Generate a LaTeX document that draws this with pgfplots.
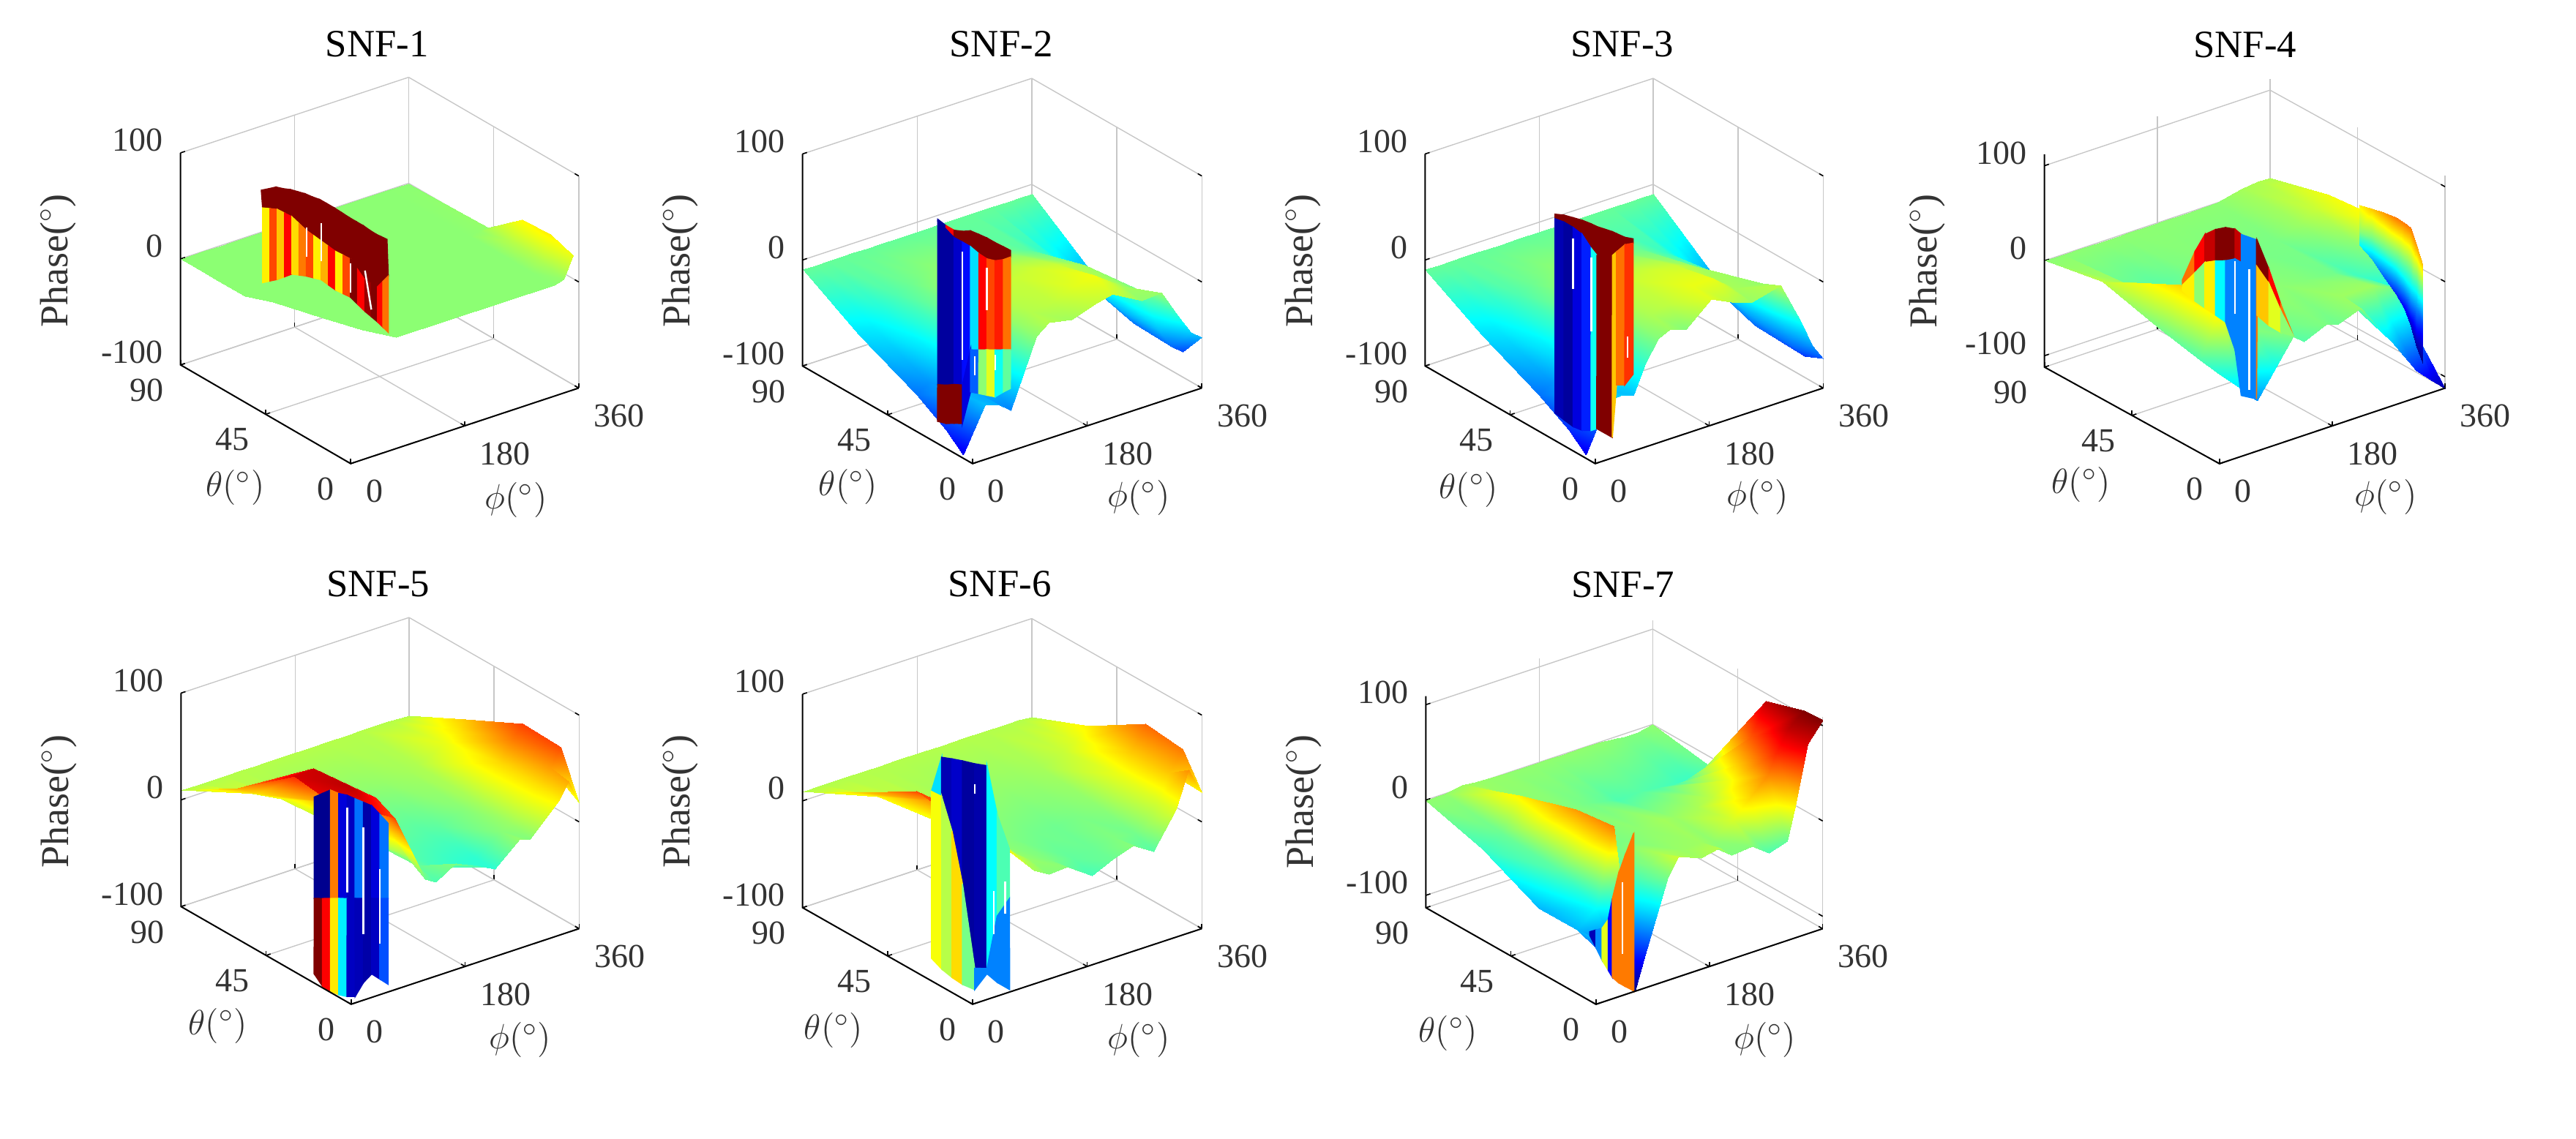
\documentclass[border=0pt]{standalone}
\usepackage{fontspec}
\setmainfont{Liberation Serif}
\usepackage{pgfplots}
\pgfplotsset{compat=1.18}
\pgfplotsset{
 snf/.style={clip=false,anchor=origin,
  xmin=0,xmax=360,ymin=0,ymax=90,
  xtick={0,180,360},ytick={0,45,90},ztick={-100,0,100},
  xtick pos=lower,ytick pos=lower,ztick pos=left,
  grid=major,grid style={black!22,line width=0.35pt},
  axis line style={draw=none},
  tick style={black,line width=0.4pt},major tick length=1.6pt,
  colormap/jet,point meta min=-122,point meta max=116,
  /pgf/number format/assume math mode=true,
  tick label style={font=\fontsize{11.5}{13}\selectfont,text=black!80,inner sep=0pt},
  xticklabel style={anchor=north west,xshift=5pt,yshift=-5.4pt},
  yticklabel style={anchor=north east,xshift=-5.5pt,yshift=-4.6pt},
  zticklabel style={anchor=east,xshift=-5.9pt,yshift=4.3pt},
  xlabel={$\phi(^\circ)$},ylabel={$\theta(^\circ)$},zlabel={Phase($^\circ$)},
 },
 labs/.style n args={9}{
  xlabel style={at={(axis cs:0,0,#1)},anchor=center,xshift=#2*0.25pt,yshift=#3*0.25pt,font=\fontsize{12.8}{15}\selectfont,text=black!80,inner sep=0pt},
  ylabel style={at={(axis cs:0,0,#1)},anchor=center,xshift=#4*0.25pt,yshift=#5*0.25pt,font=\fontsize{12.8}{15}\selectfont,text=black!80,inner sep=0pt},
  zlabel style={at={(axis cs:0,0,#1)},anchor=center,xshift=#7*0.25pt,yshift=-#6*0.25pt,font=\fontsize{13.5}{15}\selectfont,text=black!80,inner sep=0pt},
  title style={at={(axis cs:0,0,#1)},anchor=center,xshift=#8*0.25pt,yshift=#9*0.25pt,font=\fontsize{13.2}{15}\selectfont,inner sep=0pt},
 },
 base/.style={surf,shader=interp,point meta=z,mesh/cols=#1},
 wall/.style={surf,shader=flat corner,point meta=explicit,mesh/cols=#1,z buffer=none},
 sliver/.style={white,line width=0.6pt,mark=none},
}
\newcommand\snfaxes[2]{%
 \draw[black,line width=0.5pt] (axis cs:0,90,#2) -- (axis cs:0,90,#1) -- (axis cs:0,0,#1) -- (axis cs:360,0,#1);}
\begin{document}
\begin{tikzpicture}
\path[use as bounding box] (0pt,0pt) rectangle (880pt,389pt);
% ---------------- SNF-1
\begin{axis}[snf,at={(119.8pt,266.8pt)},zmin=-100,zmax=100,
 x={(0.21644pt,0.07175pt)},y={(-0.64575pt,0.37468pt)},z={(0pt,0.36234pt)},
 labs={-100}{226}{-50}{-158}{-33}{-400}{277}{36}{549},title={SNF-1}]
\addplot3[base=8] table {
0 90 0
17 90 0
40 90 0
60 90 0
80 90 0
330 90 0
345 90 0
360 90 0
0 78 0
17 75 0
40 68 0
60 62 0
80 48 0
330 48 0
345 48 1
360 48 2
0 70 0
17 65 0
40 52 0
60 42 0
80 30 0
330 30 0
345 30 10
360 30 28
0 62 0
17 55 0
40 40 0
60 28 0
80 15 0
330 15 0
345 15 8
360 15 30
0 56 0
17 47 0
40 28 0
60 14 0
80 3 0
330 3 0
345 3 2
360 3 22
};
\addplot3[wall=19] table[meta index=3] {
32 58 91.5 116
35.7 55.3 95 116
39.4 52.7 98.5 116
43.1 50 99 116
46.8 47.5 100 116
50.5 44.9 100 116
54.3 42.3 100 116
58 39.6 99 116
61.8 37 98.5 116
65.5 34.4 96.5 116
69.2 31.8 94.5 116
73 29.1 92 116
76.7 26.5 89.5 116
80.3 23.9 87.5 116
84 21.3 85.5 116
87.2 19 83 116
90.4 16.8 81 116
93.2 14.9 80 116
96 13 79 116
12 50.6 86.4 30
15.7 48 87.7 70
19.4 45.3 89 40
23.1 42.7 87.5 86
26.8 40.1 86 35
30.5 37.5 81.5 58
34.3 34.9 77 70
38 32.2 74 30
41.8 29.6 71 45
45.5 27 68 86
49.2 24.4 65 30
53 21.7 63.5 70
56.7 19.1 62 116
60.3 16.5 54 86
64 13.9 46 110
67.2 11.6 44.5 116
70.4 9.4 43 86
73.2 7.5 49.5 60
76 5.6 56 86
12 50.6 16 0
15.7 48 19.5 0
19.4 45.3 23 0
23.1 42.7 27.5 0
26.8 40.1 32 0
30.5 37.5 33 0
34.3 34.9 34 0
38 32.2 34.3 0
41.8 29.6 34.6 0
45.5 27 31.6 0
49.2 24.4 28.7 0
53 21.7 27.3 0
56.7 19.1 26 0
60.3 16.5 21.3 0
64 13.9 16.6 0
67.2 11.6 13.3 0
70.4 9.4 10 0
73.2 7.5 6.5 0
76 5.6 3 0
};
\addplot3[sliver] coordinates {(56.7,19.1,58) (56.7,19.1,30)};
\addplot3[sliver] coordinates {(41.8,29.6,88) (41.8,29.6,52)};
\addplot3[sliver] coordinates {(64,13.9,55) (67.2,11.6,20)};
\addplot3[sliver] coordinates {(34.3,34.9,80) (34.3,34.9,52)};
\snfaxes{-100}{100}
\end{axis}
% ---------------- SNF-2
\begin{axis}[snf,at={(332.25pt,266.8pt)},zmin=-100,zmax=100,
 x={(0.21752pt,0.07175pt)},y={(-0.64553pt,0.3707pt)},z={(0pt,0.36234pt)},
 labs={-100}{227}{-47}{-170}{-32}{-399}{277}{39}{549},title={SNF-2}]
\addplot3[base=15] table {
0 90 -9
20 90 -9
40 90 -9
60 90 -9
80 90 -9
100 90 -9
120 90 -9
155 90 -9
190 90 -9
220 90 -9
265 90 -9
296 90 -9
322 90 -9
342 90 -9
360 90 -9
0 60 -40
20 60 -36
40 60 -26
60 60 -14
80 60 -7
100 60 -3
120 60 0
155 60 0
190 60 -2
220 60 -4
265 60 -12
296 60 -22
322 60 -36
342 60 -44
360 60 -48
0 30 -65
20 30 -58
40 30 -42
60 30 -22
80 30 -4
100 30 8
120 30 12
155 30 14
190 30 16
220 30 14
265 30 4
296 30 -18
322 30 -50
342 30 -66
360 30 -70
0 14 -83
20 10 -50
40 10 -52
60 10 -48
80 10 -22
100 10 2
120 10 9
155 10 12
190 10 20
220 10 24
265 10 5
296 10 -6
322 10 -48
342 10 -68
360 10 -76
0 5 -97
20 0 -48
40 0 -52
60 0 -62
80 0 -30
100 0 0
120 0 9
155 0 5
190 0 12
220 0 16
265 0 1
296 0 3
322 0 -24
342 0 -44
360 0 -52
};
\addplot3[wall=10] table[meta index=3] {
60 38.7 79 -115
60 34.3 77.5 86
60 30 77.5 116
60 25.6 81 116
60 21.3 85.8 116
60 16.9 87 116
60 12.6 88 116
60 8.3 88 116
60 3.9 88.6 116
60 0.2 89 116
60 38.7 77.2 -115
60 34.3 74 -115
60 30 70.6 -105
60 25.6 70.9 -90
60 21.3 70.9 -40
60 16.9 68.8 86
60 12.6 68.3 70
60 8.3 70.9 80
60 3.9 76.5 60
60 0.2 82.7 60
60 38.7 -77 116
60 34.3 -73 116
60 30 -68 116
60 25.6 -64 -100
60 21.3 -26.4 -70
60 16.9 -22 0
60 12.6 -17.5 20
60 8.3 -13.2 -30
60 3.9 -8.6 -10
60 0.2 -4.8 -10
0 18.5 -79 0
0 14.1 -76.5 0
0 9.8 -72 0
0 5.4 -67.6 0
0 1.1 -33.5 0
9.7 0 -35.8 0
22.6 0 -40 0
35.4 0 -44 0
48.4 0 -42 0
59.4 0 -40.8 0
};
\addplot3[sliver] coordinates {(60,25.6,62) (60,25.6,-40)};
\addplot3[sliver] coordinates {(60,12.6,60) (60,12.6,20)};
\addplot3[sliver] coordinates {(60,8.3,-18) (60,8.3,-32)};
\addplot3[sliver] coordinates {(60,19,-30) (60,19,-48)};
\snfaxes{-100}{100}
\end{axis}
% ---------------- SNF-3
\begin{axis}[snf,at={(544.95pt,266.8pt)},zmin=-100,zmax=100,
 x={(0.21634pt,0.07175pt)},y={(-0.64553pt,0.3707pt)},z={(0pt,0.36234pt)},
 labs={-100}{222}{-46}{-173}{-36}{-399}{277}{37}{549},title={SNF-3}]
\addplot3[base=15] table {
0 90 -9
20 90 -9
40 90 -9
60 90 -9
80 90 -9
100 90 -9
118 90 -9
144 90 -9
183 90 -9
215 90 -9
248 90 -9
293 90 -9
325 90 -9
342 90 -9
360 90 -9
0 60 -40
20 60 -36
40 60 -26
60 60 -14
80 60 -7
100 60 -3
118 60 0
144 60 0
183 60 -2
215 60 -4
248 60 -8
293 60 -20
325 60 -36
342 60 -44
360 60 -50
0 30 -65
20 30 -58
40 30 -42
60 30 -22
80 30 -2
100 30 8
118 30 12
144 30 14
183 30 16
215 30 14
248 30 6
293 30 -12
325 30 -50
342 30 -68
360 30 -76
0 14 -83
20 10 -50
40 10 -48
60 10 -40
80 10 -18
100 10 2
118 10 8
144 10 12
183 10 22
215 10 22
248 10 6
293 10 2
325 10 -40
342 10 -68
360 10 -80
0 5 -97
20 0 -45
40 0 -44
60 0 -47
80 0 -20
100 0 -2
118 0 3.6
144 0 -2
183 0 19
215 0 10
248 0 3
293 0 10
325 0 -31
342 0 -56
360 0 -72
};
\addplot3[wall=10] table[meta index=3] {
60 41.4 81 116
60 36.6 85 116
60 31.8 87.5 116
60 27 90 116
60 22.2 91.5 116
60 19.2 92 116
60 11 95.6 116
60 8.8 96 116
60 4.4 97 116
60 0.1 100 116
60 41.4 76.7 -110
60 36.6 78.4 -115
60 31.8 78.3 -100
60 27 76.6 -85
60 22.2 68.4 -30
60 19.2 64.8 116
60 11 73.2 40
60 8.8 78.8 60
60 4.4 90 75
60 0.1 95.9 75
0 21.3 -74 0
0 16.5 -75.6 0
0 11.7 -77 0
0 7 -75.7 0
0 2.2 -71 0
2.5 0 -67.5 0
27 0 -80.6 0
33.7 0 -32.4 0
46.7 0 -35 0
59.7 0 -27.6 0
};
\addplot3[sliver] coordinates {(60,31.8,68) (60,31.8,20)};
\addplot3[sliver] coordinates {(60,22.2,60) (60,22.2,-10)};
\addplot3[sliver] coordinates {(60,3,5) (60,3,-15)};
\snfaxes{-100}{100}
\end{axis}
% ---------------- SNF-4
\begin{axis}[snf,at={(758.2pt,266.9pt)},zmin=-112,zmax=112,
 x={(0.214pt,0.07175pt)},y={(-0.66424pt,0.36673pt)},z={(0pt,0.32467pt)},
 labs={-112}{227}{-46}{-189}{-29}{-399}{277}{35}{549},title={SNF-4}]
\addplot3[base=13] table {
0 90 0
30 90 0
60 90 0
90 90 0
118 90 0
134 90 0
170 90 0
190 90 0
226 90 0
275 90 0
315 90 6
340 90 8
360 90 8
0 60 12
30 60 5
60 60 -10
90 60 -12
118 60 -8
134 60 -4
170 60 -2
190 60 -3
226 60 -4
275 60 -4
315 60 4
340 60 14
360 60 24
0 30 -5
30 30 36
60 30 0
90 30 -4
118 30 -2
134 30 0
170 30 2
190 30 0
226 30 -2
275 30 -6
315 30 -18
340 30 -8
360 30 30
0 10 -14
30 10 32
60 10 5
90 10 -2
118 10 -6
134 10 -6
170 10 -2
190 10 -4
226 10 4
275 10 4
315 10 -8
340 10 -55
360 10 -90
0 0 -18
30 0 -38
60 0 -59
90 0 -30
118 0 -3.6
134 0 -12.8
170 0 -3.6
190 0 -7
226 0 2
275 0 -44
315 0 -84
340 0 -100
360 0 -112
};
\addplot3[surf,shader=interp,point meta=explicit,mesh/cols=8,z buffer=none] table[meta index=3] {
360 44.2 31 30
360 37.8 34.6 40
360 31.5 38 50
360 25.2 39.6 58
360 20.9 39 58
360 17.7 37 58
360 14.6 22.1 50
360 11.4 3.6 40
360 44.2 3.5 0
360 37.8 3.4 -5
360 31.5 -0.6 -10
360 25.2 -8 -20
360 20.9 -18 -30
360 17.7 -29 -40
360 14.6 -44 -60
360 11.4 -59 -80
360 44.2 -11.3 -33
360 37.8 -18.7 -50
360 31.5 -30 -70
360 25.2 -41.4 -85
360 20.9 -51 -95
360 17.7 -66 -105
360 14.6 -84.6 -115
360 11.4 -99.5 -120
};
\addplot3[wall=12] table[meta index=3] {
60 38.4 24.8 60
60 32 61.5 86
60 26.8 85.7 100
60 21.4 97 116
60 16.2 105 116
60 11.3 108.8 100
60 8.1 106.8 -62
60 0.3 110 116
60 0 110 116
79 0 75 86
98 0 34 60
118 0 -3.6 60
60 38.4 19.3 30
60 32 39.4 0
60 26.8 56.3 30
60 21.4 64 -33
60 16.2 70 -62
60 11.3 77.5 -62
60 8.1 77.4 -62
60 0.3 82.5 60
60 0 82 40
79 0 60 20
98 0 26.9 0
118 0 -3.6 0
60 38.4 13.7 0
60 32 9.9 0
60 26.8 8.3 0
60 21.4 7.1 0
60 16.2 5.6 0
60 11.3 -18.3 0
60 8.1 -62.6 0
60 0.3 -57.4 0
60 0 31 0
79 0 16 0
98 0 4.5 0
118 0 -3.6 0
};
\addplot3[sliver] coordinates {(60,4,75) (60,4,-52)};
\addplot3[sliver] coordinates {(60,11.3,75) (60,11.3,20)};
\snfaxes{-112}{112}
\end{axis}
% ---------------- SNF-5
\begin{axis}[snf,at={(119.95pt,82.3pt)},zmin=-100,zmax=100,
 x={(0.21634pt,0.07175pt)},y={(-0.64553pt,0.3707pt)},z={(0pt,0.36485pt)},
 point meta min=-103,point meta max=100,
 labs={-100}{231}{-49}{-182}{-30}{-399}{277}{37}{550},title={SNF-5}]
\addplot3[base=14] table {
0 90 9
30 90 9
68 90 9
94 90 9
117 90 9
133 90 9
165 90 9
208 90 9
227 90 9
266 90 9
282 90 9
327 90 9
344 90 9
360 90 8
0 60 42
30 60 30
68 60 18
94 60 10
117 60 6
133 60 4
165 60 2
208 60 2
227 60 3
266 60 6
282 60 8
327 60 20
344 60 28
360 60 35
0 30 83
30 30 85
68 30 45
94 30 10
117 30 0
133 30 -4
165 30 -8
208 30 -10
227 30 -8
266 30 0
282 30 6
327 30 32
344 30 50
360 30 62
0 10 78
30 10 88
68 10 70
94 10 30
117 10 6
133 10 -6
165 10 -14
208 10 -18
227 10 -18
266 10 0
282 10 4
327 10 30
344 10 44
360 10 60
0 0 60
30 0 75
68 0 61
94 0 26
117 0 -6
133 0 -11.8
165 0 -0.7
208 0 -12
227 0 -17.8
266 0 2.6
282 0 -0.8
327 0 26
344 0 41
360 0 18
};
\addplot3[wall=10] table[meta index=3] {
60 39.6 42 -100
60 35.3 49.7 -100
60 31 57.3 50
60 26.6 58.5 -85
60 22.2 61.3 -90
60 18 62.3 -55
60 13.6 63.5 -95
60 9.2 64.7 -85
60 4.9 61 -55
60 0.5 57 -55
60 39.6 -53 100
60 35.3 -48.7 75
60 31 -44.2 28
60 26.6 -39.8 -30
60 22.2 -35.4 -90
60 18 -31 -92
60 13.6 -26.5 -95
60 9.2 -22.1 -90
60 4.9 -17.7 -62
60 0.5 -13.3 -62
0 19.6 -91.3 0
0 15.2 -98.4 0
0 10.9 -99 0
0 6.5 -97.7 0
0 2.2 -95 0
6.4 0 -94 0
19.5 0 -83.5 0
32.5 0 -78 0
45.3 0 -85.3 0
58.4 0 -92.8 0
};
\addplot3[sliver] coordinates {(60,22.2,50) (60,22.2,-30)};
\addplot3[sliver] coordinates {(60,13.6,40) (60,13.6,-60)};
\addplot3[sliver] coordinates {(60,4.9,10) (60,4.9,-60)};
\snfaxes{-100}{100}
\end{axis}
% ---------------- SNF-6
\begin{axis}[snf,at={(332.25pt,82.3pt)},zmin=-100,zmax=100,
 x={(0.21752pt,0.07175pt)},y={(-0.64553pt,0.36673pt)},z={(0pt,0.36485pt)},
 labs={-100}{227}{-49}{-190}{-36}{-399}{277}{37}{550},title={SNF-6}]
\addplot3[base=13] table {
0 90 9
30 90 9
61 90 9
97 90 9
119 90 9
148 90 9
187 90 9
220 90 9
252 90 9
284 90 9
320 90 9
339 90 9
360 90 8
0 60 38
30 60 28
61 60 18
97 60 12
119 60 8
148 60 5
187 60 3
220 60 2
252 60 3
284 60 6
320 60 14
339 60 20
360 60 30
0 30 70
30 30 55
61 30 22
97 30 8
119 30 0
148 30 -3
187 30 -6
220 30 -7
252 30 -4
284 30 0
320 30 22
339 30 40
360 30 62
0 10 65
30 10 60
61 10 35
97 10 12
119 10 2
148 10 -3
187 10 -10
220 10 -8
252 10 -3
284 10 -6
320 10 18
339 10 40
360 10 58
0 0 40
30 0 45
61 0 29.5
97 0 6
119 0 -1.6
148 0 -0.7
187 0 -16.5
220 0 -8
252 0 -1.3
284 0 -12.5
320 0 20
339 0 53
360 0 28
};
\addplot3[wall=8] table[meta index=3] {
60 41.9 46.2 -40
60 36.6 82.7 -110
60 31.1 86.7 -105
60 25.6 90.4 -115
60 19.1 94.2 -112
60 12.6 98.9 -33
60 7.2 58.6 -15
60 0.7 32.7 -15
60 41.9 45.3 25
60 36.6 46 10
60 31.1 18.9 35
60 25.6 -24.7 -5
3.3 0 -67 -62
22.6 0 -71 -62
60 7.2 -36.5 -62
60 0.7 -13.5 -62
0 21.7 -78.8 0
0 16.3 -83.5 0
0 10.9 -85.8 0
0 5.4 -86.8 0
3.3 0 -86.9 0
22.6 0 -75.9 0
38.7 0 -87.2 0
58 0 -97.6 0
};
\addplot3[sliver] coordinates {(60,9,-15) (60,9,-55)};
\addplot3[sliver] coordinates {(60,3,0) (60,3,-30)};
\addplot3[sliver] coordinates {(60,19.1,75) (60,19.1,66)};
\snfaxes{-100}{100}
\end{axis}
% ---------------- SNF-7
\begin{axis}[snf,at={(545.2pt,82.6pt)},zmin=-113,zmax=109,
 x={(0.21518pt,0.07175pt)},y={(-0.64553pt,0.36673pt)},z={(0pt,0.32575pt)},
 point meta min=-112,point meta max=105,
 labs={-113}{231}{-49}{-202}{-40}{-399}{277}{37}{550},title={SNF-7}]
\addplot3[base=17] table {
0 90 0
30 90 0
58 90 3
62 90 3
78 90 2
98 90 1
114 90 1
130 90 0
166 90 0
196 90 0
215 90 0
248 90 0
274 90 0
303 90 -2
316 90 -3
336 90 -3
360 90 0
0 60 -18
30 60 -8
58 60 26
62 60 24
78 60 8
98 60 0
114 60 -2
130 60 -2
166 60 -6
196 60 -10
215 60 -14
248 60 -12
274 60 -14
303 60 -16
316 60 -18
336 60 -18
360 60 -10
0 30 -46
30 30 -12
58 30 45
62 30 30
78 30 0
98 30 -5
114 30 -6
130 30 -4
166 30 0
196 30 4
215 30 2
248 30 5
274 30 10
303 30 22
316 30 35
336 30 60
360 30 92
0 10 -46
30 10 -30
58 10 50
62 10 -60
78 10 -40
98 10 -15
114 10 -3
130 10 6
166 10 2
196 10 3
215 10 0
248 10 15
274 10 32
303 10 50
316 10 70
336 10 92
360 10 105
0 0 -44
30 0 -80
58 0 -110
62 0 -113
78 0 -78
98 0 -38
114 0 -5
130 0 13
166 0 3.7
196 0 8
215 0 -3.6
248 0 -2
274 0 -14.4
303 0 -9
316 0 25
336 0 86
360 0 106
};
\addplot3[wall=9] table[meta index=3] {
60 23.3 -76.4 -100
60 20 -70.8 -55
60 16.8 -65.5 18
60 13.5 -52.5 -85
60 11.3 -28 52
60 8.1 1.2 52
60 4.8 23.3 52
60 0.5 50.2 52
60 0 52.5 52
60 23.3 -80 0
60 20 -89.2 0
60 16.8 -98.6 0
60 13.5 -105.8 0
60 11.3 -110.6 0
60 8.1 -112.6 0
60 4.8 -112.6 0
60 0.5 -112.1 0
60 0 -112.7 0
};
\addplot3[sliver] coordinates {(60,6,-5) (60,6,-80)};
\snfaxes{-113}{109}
\end{axis}
\end{tikzpicture}
\end{document}
